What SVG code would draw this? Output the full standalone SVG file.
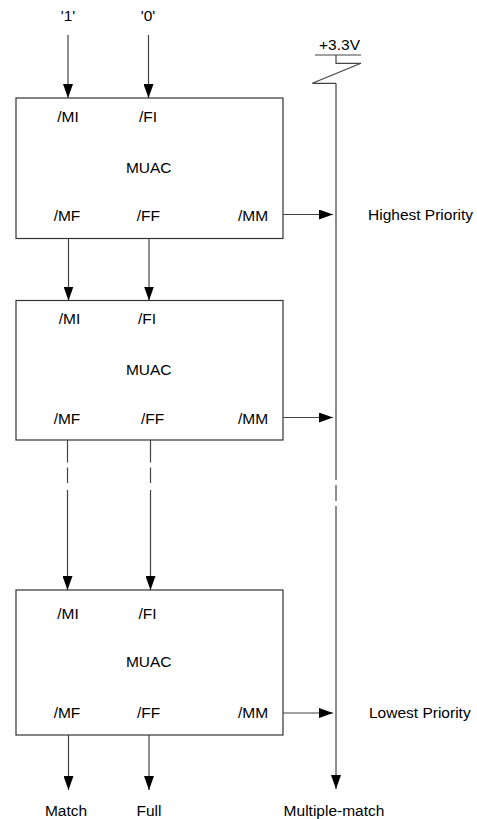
<svg xmlns="http://www.w3.org/2000/svg" width="477" height="819" viewBox="0 0 477 819">
<style>
text{font-family:"Liberation Sans",Arial,sans-serif;font-size:15.5px;fill:#000}
.c{text-anchor:middle}
.box{fill:#fff;stroke:#333;stroke-width:1.2}
.ln{stroke:#444;stroke-width:1.2;fill:none}
.arr{marker-end:url(#ah)}
</style>
<defs>
<marker id="ah" markerUnits="userSpaceOnUse" markerWidth="14" markerHeight="10" refX="14" refY="5" orient="auto">
<path d="M0,0 L14,5 L0,10 z" fill="#000"/>
</marker>
</defs>
<rect width="477" height="819" fill="#fff"/>
<g id="inputs">
<text class="c" x="68" y="21">'1'</text>
<text class="c" x="148" y="21">'0'</text>
</g>
<g id="muac1">
<rect class="box" x="16" y="98" width="267" height="140.5"/>
<text class="c" x="68" y="122">/MI</text>
<text class="c" x="148" y="122">/FI</text>
<text class="c" x="148.7" y="173">MUAC</text>
<text class="c" x="67" y="221">/MF</text>
<text class="c" x="148.3" y="221">/FF</text>
<text class="c" x="253" y="221">/MM</text>
</g>
<g id="muac2">
<rect class="box" x="16" y="300.5" width="267" height="139.5"/>
<text class="c" x="69.5" y="324">/MI</text>
<text class="c" x="147" y="324">/FI</text>
<text class="c" x="148.7" y="375">MUAC</text>
<text class="c" x="67" y="424">/MF</text>
<text class="c" x="152.5" y="424">/FF</text>
<text class="c" x="253" y="424">/MM</text>
</g>
<g id="muac3">
<rect class="box" x="16" y="590" width="267" height="145"/>
<text class="c" x="68" y="619">/MI</text>
<text class="c" x="147.5" y="619">/FI</text>
<text class="c" x="148.7" y="667">MUAC</text>
<text class="c" x="67" y="718">/MF</text>
<text class="c" x="148.5" y="718">/FF</text>
<text class="c" x="253" y="718">/MM</text>
</g>
<g id="pullup">
<text class="c" x="339.5" y="50">+3.3V</text>
<line class="ln" x1="315" y1="55" x2="361" y2="55"/>
<polyline class="ln" points="336,55 336,63.3 361,63.3 312.3,83.3 336,83.3"/>
</g>
<g id="connectors">
<line class="ln arr" x1="68" y1="35" x2="68" y2="98"/>
<line class="ln arr" x1="148.5" y1="35" x2="148.5" y2="98"/>
<line class="ln arr" x1="68.5" y1="238.5" x2="68.5" y2="300.5"/>
<line class="ln arr" x1="149" y1="238.5" x2="149" y2="300.5"/>
<line class="ln" x1="67.5" y1="440" x2="67.5" y2="462.5"/>
<line class="ln" x1="67.5" y1="467.5" x2="67.5" y2="483"/>
<line class="ln arr" x1="67.5" y1="490" x2="67.5" y2="590"/>
<line class="ln" x1="150.5" y1="440" x2="150.5" y2="462.5"/>
<line class="ln" x1="150.5" y1="467.5" x2="150.5" y2="483"/>
<line class="ln arr" x1="150.5" y1="490" x2="150.5" y2="590"/>
<line class="ln arr" x1="68.5" y1="735" x2="68.5" y2="790"/>
<line class="ln arr" x1="149" y1="735" x2="149" y2="790"/>
<line class="ln arr" x1="283" y1="214.5" x2="333" y2="214.5"/>
<line class="ln arr" x1="283" y1="417.5" x2="333" y2="417.5"/>
<line class="ln arr" x1="283" y1="713" x2="333" y2="713"/>
<line class="ln" x1="336" y1="83.3" x2="336" y2="480"/>
<line class="ln" x1="336" y1="485" x2="336" y2="501"/>
<line class="ln arr" x1="336" y1="506" x2="336" y2="789"/>
</g>
<g id="labels">
<text x="368" y="220">Highest Priority</text>
<text x="369" y="718">Lowest Priority</text>
<text class="c" x="66" y="816">Match</text>
<text class="c" x="149" y="816">Full</text>
<text class="c" x="334" y="816">Multiple-match</text>
</g>
</svg>
